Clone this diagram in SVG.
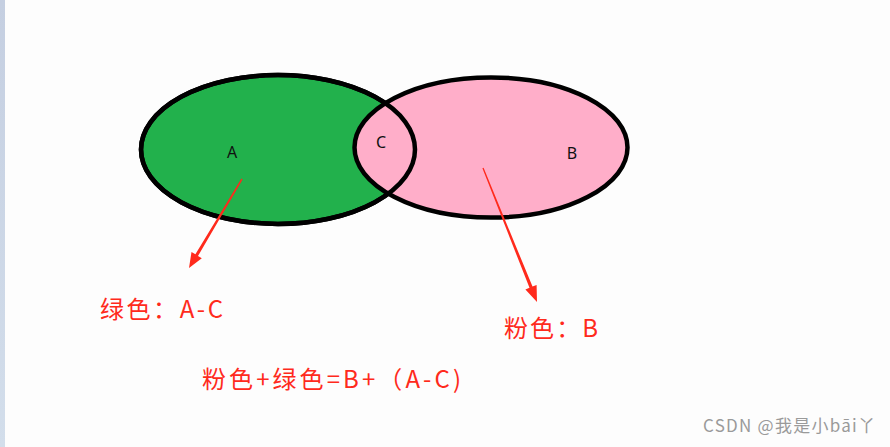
<svg xmlns="http://www.w3.org/2000/svg" width="890" height="447" viewBox="0 0 890 447">
<defs>
<linearGradient id="strip" x1="0" y1="0" x2="0" y2="1">
<stop offset="0" stop-color="#c5cfe1"/>
<stop offset="1" stop-color="#d3deeb"/>
</linearGradient>
</defs>
<style>
.outline{fill:none;stroke:#000;stroke-width:4.5}
.lbl{font-family:"Noto Sans","Liberation Sans",sans-serif;font-size:16px;fill:#111}
.red{font-family:"Noto Sans CJK SC","Noto Sans",sans-serif;font-size:24px;fill:#ff2a1c}
.arrow{fill:#ff2a1c}
.wm{font-family:"Noto Sans CJK SC","Noto Sans",sans-serif;font-size:17px;fill:#9a9a9a}
</style>
<rect x="0" y="0" width="890" height="447" fill="#fdfdfd"/>
<rect x="0" y="0" width="5" height="447" fill="url(#strip)"/>
<g id="setA">
<ellipse cx="278" cy="149.5" rx="137" ry="74.5" fill="#22b14c" stroke="#000" stroke-width="4.5"/>
</g>
<g id="setB">
<ellipse cx="491" cy="147.5" rx="136.5" ry="70" fill="#ffaec9" stroke="#000" stroke-width="4.5"/>
<ellipse class="outline" cx="278" cy="149.5" rx="137" ry="74.5"/>
</g>
<g id="labels">
<text class="lbl" x="232" y="158" text-anchor="middle">A</text>
<text class="lbl" x="381" y="148" text-anchor="middle">C</text>
<text class="lbl" x="572" y="159" text-anchor="middle">B</text>
</g>
<g id="connectors">
<polygon class="arrow" points="242.6,179.4 198.0,255.9 201.8,258.2 189,268 191.5,252.0 195.4,254.3 241.4,178.6"/>
<polygon class="arrow" points="482.4,168.3 529.5,287.8 525.4,289.4 537,302 536.6,285.0 532.5,286.6 483.6,167.7"/>
</g>
<g id="note-green">
<text class="red" x="100" y="318" textLength="123" lengthAdjust="spacing">绿色：A-C</text>
</g>
<g id="note-pink">
<text class="red" x="504" y="337" textLength="94" lengthAdjust="spacing">粉色：B</text>
</g>
<g id="note-sum">
<text class="red" x="202" y="388" textLength="259" lengthAdjust="spacing">粉色+绿色=B+（A-C)</text>
</g>
<text class="wm" x="703" y="432" textLength="172" lengthAdjust="spacing">CSDN @我是小bāi丫</text>
</svg>
